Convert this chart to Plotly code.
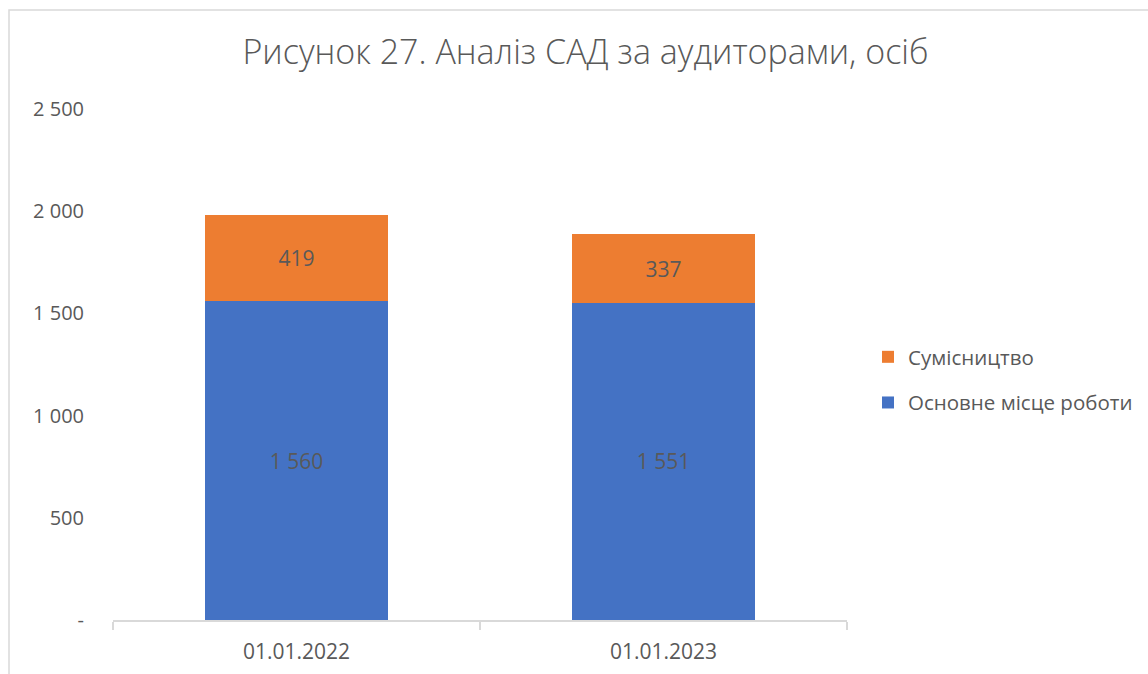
import plotly.graph_objects as go

categories = ["01.01.2022", "01.01.2023"]
main_values = [1560, 1551]
part_values = [419, 337]
main_name = "Основне місце роботи"
part_name = "Сумісництво"
tick_values = [0, 500, 1000, 1500, 2000, 2500]
tick_labels = ["-", "500", "1 000", "1 500", "2 000", "2 500"]
title_text = "Рисунок 27. Аналіз САД за аудиторами, осіб"

def fmt(v):
    return f"{v:,}".replace(",", " ")

FONT = "Segoe UI, Open Sans, sans-serif"
GREY = "#595959"

fig = go.Figure()
fig.add_trace(go.Bar(
    x=categories, y=main_values, name=main_name, legendgroup="main", legendrank=2,
    marker=dict(color="#4472C4", line=dict(width=0)),
    text=[fmt(v) for v in main_values], textposition="inside",
    insidetextanchor="middle", textfont=dict(color=GREY, size=21, family=FONT),
    hoverinfo="skip",
))
fig.add_trace(go.Bar(
    x=categories, y=part_values, name=part_name, legendgroup="part", legendrank=1,
    marker=dict(color="#ED7D31", line=dict(width=0)),
    text=[fmt(v) for v in part_values], textposition="inside",
    insidetextanchor="middle", textfont=dict(color=GREY, size=21, family=FONT),
    hoverinfo="skip",
))

L, R, T, B = 113, 301, 109, 54
W, H = 1148, 674
pw, ph = W - L - R, H - T - B

def px_x(x):
    return (x - L) / pw

def px_y(y):
    return (H - B - y) / ph

fig.update_layout(
    width=W, height=H,
    barmode="stack", bargap=0.5,
    paper_bgcolor="white", plot_bgcolor="white",
    margin=dict(l=L, r=R, t=T, b=B, autoexpand=False),
    font=dict(family=FONT, color=GREY, size=20),
    title=dict(text=title_text, x=585.5 / W, xanchor="center",
               y=1 - 52 / H, yanchor="middle",
               font=dict(size=34, color=GREY, family=FONT, weight=300)),
    legend=dict(traceorder="grouped", x=px_x(868), xanchor="left",
                y=px_y(380), yanchor="middle",
                font=dict(size=20.5, color=GREY, family=FONT),
                itemwidth=30, tracegroupgap=16, bgcolor="rgba(0,0,0,0)"),
    xaxis=dict(showgrid=False, showline=True, linecolor="#D9D9D9", linewidth=1.5,
               ticks="outside", ticklen=8, tickcolor="#D9D9D9", tickwidth=1.5,
               tickson="boundaries", ticklabelstandoff=12, automargin=False,
               tickfont=dict(size=21, color=GREY, family=FONT)),
    yaxis=dict(range=[0, 2500], tickvals=tick_values, ticktext=tick_labels,
               showgrid=False, showline=False, zeroline=False, ticks="",
               ticklabelstandoff=28, automargin=False,
               tickfont=dict(size=20, color=GREY, family=FONT)),
    shapes=[dict(type="rect", xref="paper", yref="paper",
                 x0=px_x(9), x1=px_x(1160), y0=px_y(690), y1=px_y(10),
                 line=dict(color="#D9D9D9", width=1.5), fillcolor="rgba(0,0,0,0)",
                 layer="below")],
)

fig.write_html("out.html", config={"displayModeBar": False},
               post_script="document.body.style.margin='0';")
